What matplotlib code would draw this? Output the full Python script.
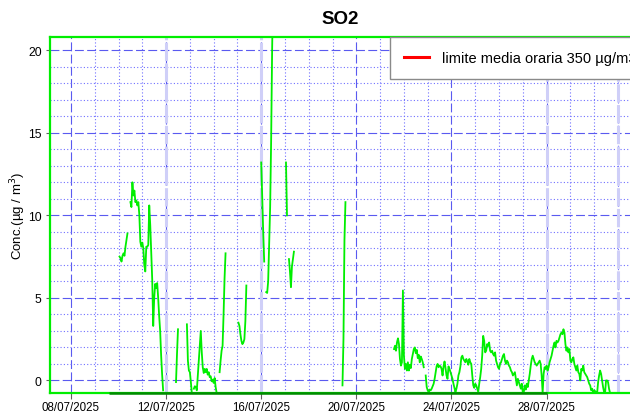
import numpy as np
import pandas as pd
import matplotlib
matplotlib.use('Agg')
import matplotlib.pyplot as plt
import matplotlib.dates as mdates

plt.rcParams['font.family'] = ['Liberation Sans', 'DejaVu Sans']

# ---------------- data ----------------
title = 'SO2'
ylabel = 'Conc.(µg / m$^{3}$)'
legend_label = 'limite media oraria 350 µg/m3'
limit_value = 350
origin = pd.Timestamp('2025-07-08 00:00')

# hourly segments: (start hour after origin, values)
seg_a_start, seg_a = 49, [7.5, 7.4, 7.2, 7.55, 7.7, 7.55, 8.1, 8.5, 8.9]
seg_b_start, seg_b = 60, [10.8, 10.5, 12.0, 11.2, 11.5, 10.8, 10.9, 10.6, 10.8, 10.0,
                          8.4, 8.1, 8.35, 8.0, 7.0, 6.6, 8.1, 8.1, 8.2, 10.6,
                          9.4, 7.8, 6.1, 3.3, 5.0, 5.85, 5.6, 5.9, 5.0, 3.9,
                          3.0, 1.5, 0.35, -0.6]
seg_c_start, seg_c = 106, [-0.1, 1.6, 3.1]
seg_d_start, seg_d = 117, [3.4, 1.2, 0.6, 0.5, -0.1, -0.8]
seg_e_start, seg_e = 124, [-0.5, -0.35, -0.4, -0.6, 0.3, 1.1, 2.1, 3.0, 1.7, 0.8,
                           0.45, 0.7, 0.5, 0.7, 0.35, 0.5, 0.2, 0.25, -0.05, 0.05,
                           -0.15, 0.15, -0.4, -0.75]
seg_g_start, seg_g = 150, [0.5, 1.2, 1.8, 2.1, 4.0, 6.2, 7.7]
seg_h_start, seg_h = 169, [3.5, 3.3, 2.8, 2.4, 2.2, 2.3, 2.5, 3.6, 5.75]
seg_i_start, seg_i = 192, [13.2, 11.0, 9.0, 7.2]
seg_j_start, seg_j = 197, [5.35, 5.3, 6.0, 8.2, 10.5, 14.5, 20.0, 24.0]
seg_k_start, seg_k = 217, [13.2, 10.0]
seg_l_start, seg_l = 220, [7.35, 6.6, 5.65, 6.9, 7.35, 7.8]
seg_m_start, seg_m = 274, [-0.3, 2.5, 8.5, 10.8]
seg_n_start, seg_n = 326, [1.9, 2.1, 1.8, 2.3, 2.55, 2.2, 1.3, 0.9, 1.1, 5.45,
                           1.5, 0.7, 1.0, 0.6, 1.1, 0.6, 0.95, 0.75, 1.3, 1.6,
                           1.9, 2.0, 1.65, 1.85, 1.35, 1.55, 1.1, 1.45, 1.3, 1.1, 0.8]
seg_o1_start, seg_o1 = 358, [0.3, -0.4, -0.6, -0.7, -0.55, -0.6, -0.5, -0.35, -0.2, 0.1,
                             0.5, 0.86, 1.0, 0.8, 0.9, 0.85, 0.7, 0.3, 0.85, 1.15,
                             0.75, 0.3, 0.1, 0.85, 0.7, 0.5, 0.3, 0.1, -0.2, -0.45,
                             -0.7, -0.5, -0.2, 0.3, 0.5, 0.86, 1.4, 1.5, 1.3, 1.2,
                             1.1, 1.3, 1.15, 0.95, 1.3, 1.1, 1.0, 0.3, -0.3, -0.45,
                             -0.2, -0.3, -0.5, -0.7, -0.2, 0.2, 0.7, 1.5, 2.7, 2.4]
seg_o2_start, seg_o2 = 418, [1.7, 1.8, 2.2, 2.1, 2.3, 1.8, 1.7, 1.8, 1.6, 1.5,
                             1.7, 1.2, 1.0, 0.8, 0.7, 1.0, 1.1, 1.3, 1.5, 1.6,
                             1.2, 1.0, 1.2, 1.1, 0.9, 0.8, 0.6, 0.5, 0.3, 0.4,
                             0.5, 0.1, -0.3, 0.1, -0.1, -0.3, -0.5, -0.2, -0.75, -0.7,
                             -0.3, -0.55, -0.2, -0.4, 0.0, 0.4, 0.9, 1.3, 1.5, 1.3,
                             1.1, 1.0, 0.9, 1.0, 1.1, 1.2, 1.0, 0.3, -0.75, 0.4]
seg_o3_start, seg_o3 = 478, [0.8, 0.7, 0.9, 0.6, 0.8, 1.1, 1.3, 1.5, 1.8, 2.1,
                             2.3, 2.0, 2.4, 2.3, 2.4, 2.6, 2.8, 2.9, 2.8, 3.1,
                             2.9, 2.2, 1.8, 2.0, 1.7, 1.9, 1.2, 1.1, 1.3, 1.4,
                             1.0, 0.8, 0.6, 0.9, 0.5, 0.4, 0.0, 0.7, 0.6, 0.9,
                             0.5, 0.4, 0.3, 0.2, 0.0, -0.2, -0.3, -0.6, -0.5, -0.75,
                             -0.6, -0.65, -0.7, -0.75, -0.1, 0.3, 0.6, 0.4, 0.0, -0.4,
                             -0.7, -0.75, 0.0, 0.0, -0.1, -0.5, -0.75]

segments = [(seg_a_start, seg_a), (seg_b_start, seg_b), (seg_c_start, seg_c),
            (seg_d_start, seg_d), (seg_e_start, seg_e), (seg_g_start, seg_g),
            (seg_h_start, seg_h), (seg_i_start, seg_i), (seg_j_start, seg_j),
            (seg_k_start, seg_k), (seg_l_start, seg_l), (seg_m_start, seg_m),
            (seg_n_start, seg_n), (seg_o1_start, seg_o1), (seg_o2_start, seg_o2),
            (seg_o3_start, seg_o3)]

highlight_days = ['2025-07-12', '2025-07-16', '2025-07-28', '2025-07-31']
dark_base_from, dark_base_to = '2025-07-09 14:00', '2025-07-28 00:00'
x_from, x_to = '2025-07-07 02:50', '2025-07-31 12:10'
y_from, y_to = -0.76, 20.8

# ---------------- build series ----------------
hours = np.arange(-24, 600)
values = np.full(hours.shape, np.nan)
for h0, seg in segments:
    i0 = h0 + 24
    values[i0:i0 + len(seg)] = seg
times = origin + pd.to_timedelta(hours, unit='h')

# ---------------- figure ----------------
W, H = 630, 414
fig = plt.figure(figsize=(W / 100, H / 100), dpi=100)
ax = fig.add_axes([50 / W, 1 - 394 / H, (W - 50) / W, (394 - 38) / H])

ax.set_xlim(pd.Timestamp(x_from), pd.Timestamp(x_to))
ax.set_ylim(y_from, y_to)

# highlighted day lines
for d in highlight_days:
    ax.axvline(pd.Timestamp(d), color='#cfcff8', lw=2.2, linestyle=(0, (6, 0.8)), zorder=0.6)

ax.xaxis.set_major_locator(mdates.DayLocator(bymonthday=[8, 12, 16, 20, 24, 28]))
ax.xaxis.set_minor_locator(mdates.DayLocator())
ax.xaxis.set_major_formatter(mdates.DateFormatter('%d/%m/%Y'))
ax.yaxis.set_major_locator(matplotlib.ticker.MultipleLocator(5))
ax.yaxis.set_minor_locator(matplotlib.ticker.MultipleLocator(1))

ax.grid(which='major', color='#5a5af0', linestyle=(0, (8, 3)), lw=0.8, zorder=0.8)
ax.grid(which='minor', color='#7070ff', linestyle=(0, (1, 2)), lw=0.8, zorder=0.7)
ax.set_axisbelow(True)

ax.plot(times, values, color='#00ee00', lw=1.3, zorder=3)
ax.axhline(limit_value, color='red', lw=2.2, label=legend_label)

# spines
for side in ['left', 'top', 'bottom']:
    ax.spines[side].set_color('#00ee00')
    ax.spines[side].set_linewidth(1.6)
ax.spines['right'].set_visible(False)
ax.hlines(y_from, pd.Timestamp(dark_base_from), pd.Timestamp(dark_base_to),
          color='#008a00', lw=1.8, clip_on=False, zorder=4)

ax.tick_params(axis='x', which='major', labelsize=8.3, length=4, color='#606060', pad=2)
ax.tick_params(axis='y', which='major', labelsize=8.7, length=3, color='#606060', pad=3)
ax.tick_params(which='minor', length=0)

ax.set_title(title, fontsize=13.5, fontweight='bold', pad=10)
ax.set_ylabel(ylabel, fontsize=9.5)
ax.yaxis.set_label_coords(-(50 - 28) / (W - 50), 0.5)

leg = ax.legend(loc='upper left', bbox_to_anchor=(390 / W, 1 - 38 / H),
                bbox_transform=fig.transFigure, fontsize=10.5, frameon=True,
                fancybox=False, edgecolor='#8a8a8a', framealpha=1,
                borderpad=0.95, handlelength=1.7, handletextpad=0.95, borderaxespad=0)
leg.get_frame().set_linewidth(1.0)
leg.set_zorder(10)

fig.savefig('out.png', dpi=100)
